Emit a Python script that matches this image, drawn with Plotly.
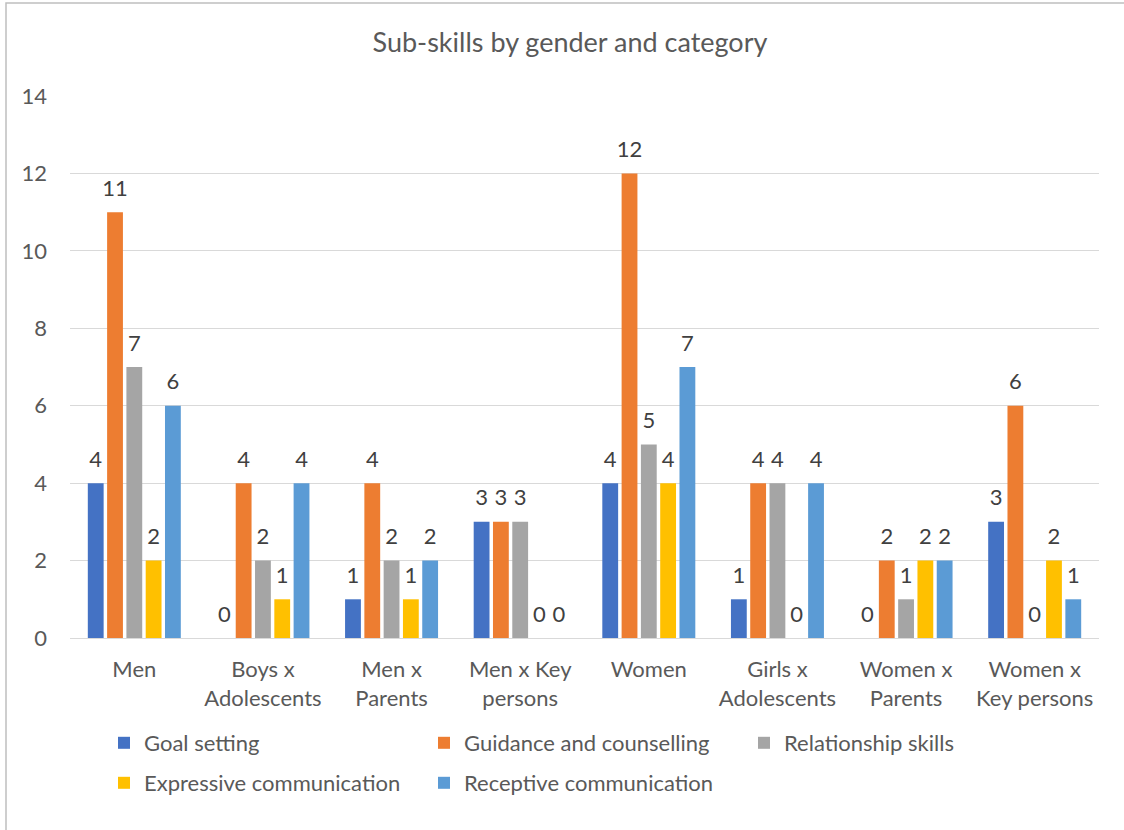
import plotly.graph_objects as go

categories = [
    "Men", "Boys x<br>Adolescents", "Men x<br>Parents", "Men x Key<br>persons",
    "Women", "Girls x<br>Adolescents", "Women x<br>Parents", "Women x<br>Key persons",
]
series_names = [
    "Goal setting", "Guidance and counselling", "Relationship skills",
    "Expressive communication", "Receptive communication",
]
goal_setting = [4, 0, 1, 3, 4, 1, 0, 3]
guidance_counselling = [11, 4, 4, 3, 12, 4, 2, 6]
relationship_skills = [7, 2, 2, 3, 5, 4, 1, 0]
expressive_communication = [2, 1, 1, 0, 4, 0, 2, 2]
receptive_communication = [6, 4, 2, 0, 7, 4, 2, 1]
y_ticks = [0, 2, 4, 6, 8, 10, 12, 14]

series_values = [goal_setting, guidance_counselling, relationship_skills,
                 expressive_communication, receptive_communication]
colors = ["#4472C4", "#ED7D31", "#A5A5A5", "#FFC000", "#5B9BD5"]
legend_ids = ["legend", "legend", "legend", "legend2", "legend2"]
legend_widths = [275, 275, 220, 275, 260]

W, H = 1124, 830
FONT = "Lato, 'Open Sans', sans-serif"
FS = 22
GAP = 0.25

fig = go.Figure()
for name, vals, col, lg, lw in zip(series_names, series_values, colors, legend_ids, legend_widths):
    fig.add_trace(go.Bar(
        x=categories, y=vals, name=name,
        marker=dict(color=col, line=dict(width=0)),
        legend=lg, legendwidth=lw,
    ))

# value labels: grouped text-only scatter sitting above each bar
for name, vals in zip(series_names, series_values):
    fig.add_trace(go.Scatter(
        x=categories, y=vals, mode="markers+text",
        text=[str(v) for v in vals], textposition="top center",
        textfont=dict(size=FS, color="#404040", family=FONT),
        marker=dict(size=16, opacity=0), cliponaxis=False,
        showlegend=False, hoverinfo="skip",
    ))

fig.update_layout(
    width=W, height=H,
    margin=dict(l=70, r=25, t=96, b=192),
    paper_bgcolor="white", plot_bgcolor="white",
    font=dict(family=FONT, color="#595959", size=FS),
    title=dict(text="Sub-skills by gender and category", x=570 / W, xanchor="center",
               y=1 - 43 / H, yanchor="middle", font=dict(size=27, color="#595959")),
    barmode="group", bargap=GAP, bargroupgap=0.18,
    scattermode="group", scattergap=GAP,
    showlegend=True,
    legend=dict(orientation="h", xref="container", yref="container",
                x=104 / W, y=1 - 743 / H, xanchor="left", yanchor="middle",
                font=dict(size=FS, color="#595959"), itemwidth=30,
                bgcolor="rgba(0,0,0,0)"),
    legend2=dict(orientation="h", xref="container", yref="container",
                 x=104 / W, y=1 - 783 / H, xanchor="left", yanchor="middle",
                 font=dict(size=FS, color="#595959"), itemwidth=30,
                 bgcolor="rgba(0,0,0,0)"),
)
fig.update_yaxes(
    range=[0, 14], tickvals=y_ticks, showgrid=True, gridcolor="#D9D9D9", gridwidth=1,
    zeroline=True, zerolinecolor="#D9D9D9", zerolinewidth=1, showline=False,
    ticklabelstandoff=22, tickfont=dict(size=FS, color="#595959"), automargin=False,
)
fig.update_xaxes(
    showline=False, ticks="", ticklabelstandoff=16,
    tickfont=dict(size=FS, color="#595959"), automargin=False,
)
# outer chart frame
fig.add_shape(type="rect", xref="paper", yref="paper",
              x0=(6 - 70) / (W - 95), x1=(W + 10 - 70) / (W - 95),
              y0=-(H + 10 - 638) / (638 - 96), y1=(638 - 3) / (638 - 96),
              line=dict(color="#BFBFBF", width=1.5), layer="below")

fig.write_html("out.html")
